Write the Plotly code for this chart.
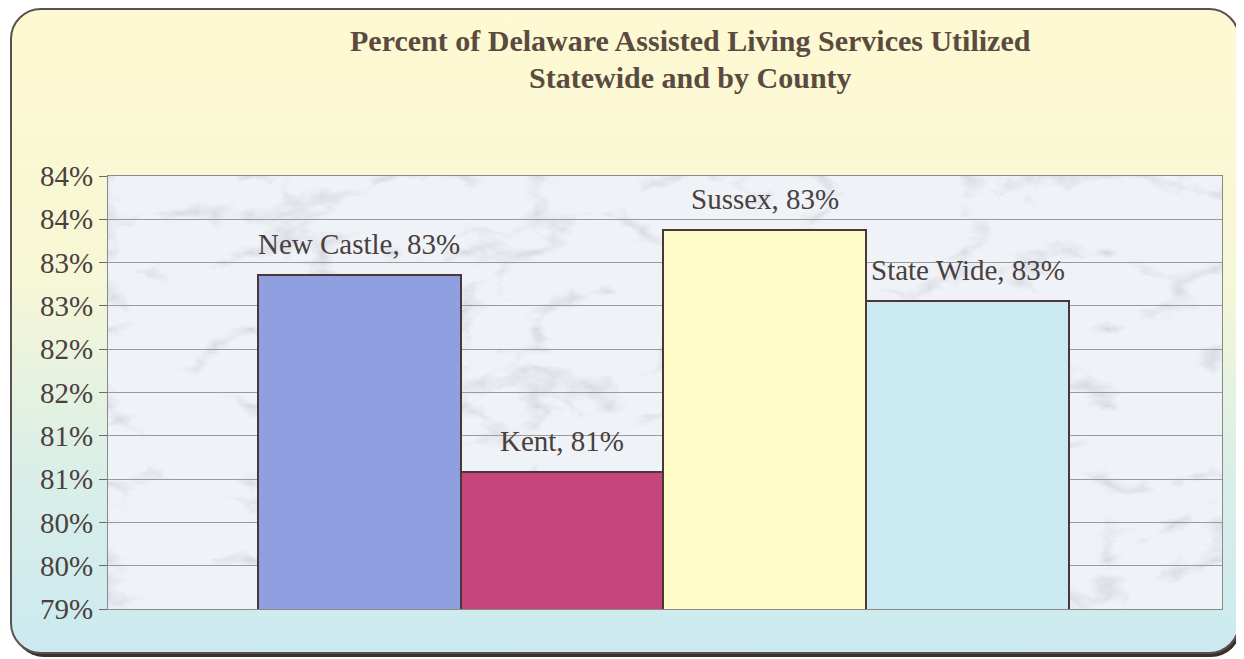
"""Percent of Delaware Assisted Living Services Utilized - bar chart."""
import base64
import plotly.graph_objs as go

# Data
counties = ['New Castle', 'Kent', 'Sussex', 'State Wide']
utilized = [82.86, 80.58, 83.38, 82.56]
bar_colors = ['#8f9fe0', '#c6457a', '#fffbc8', '#cbe9f1']
tick_vals = [79.0, 79.5, 80.0, 80.5, 81.0, 81.5, 82.0, 82.5, 83.0, 83.5, 84.0]
tick_text = ['79%', '80%', '80%', '81%', '81%', '82%', '82%', '83%', '83%', '84%', '84%']

# page body adds an 8px margin, so the figure is drawn 8px smaller
OFF = 8
W, H = 1244 - OFF, 659 - OFF
L, R, T, B = 100, 22, 168, 50
PW, PH = W - L - R, H - T - B


def px(x):
    # x in window pixels -> paper fraction
    return (x - OFF - L) / PW


def py(y):
    return (H - B - (y - OFF)) / PH


def svg_uri(svg):
    return 'data:image/svg+xml;base64,' + base64.b64encode(svg.encode()).decode()


# Background: rounded frame with yellow -> cyan gradient and dark shadow
bg_svg = f"""<svg xmlns="http://www.w3.org/2000/svg" width="{W}" height="{H}" viewBox="0 0 {W} {H}">
<defs><linearGradient id="g" x1="0" y1="0" x2="0" y2="1">
<stop offset="0" stop-color="#fef9d2"/>
<stop offset="0.42" stop-color="#f6f7d6"/>
<stop offset="0.7" stop-color="#dbefe7"/>
<stop offset="1" stop-color="#cbeaf0"/>
</linearGradient></defs>
<rect x="0" y="0" width="{W}" height="{H}" fill="#ffffff"/>
<rect x="6" y="4" width="1227" height="645" rx="30" fill="#3b302c"/>
<rect x="3" y="1" width="1228" height="644" rx="30" fill="url(#g)" stroke="#5a5050" stroke-width="2"/>
</svg>"""

# Plot area: pale marble texture
marble_svg = f"""<svg xmlns="http://www.w3.org/2000/svg" width="{PW}" height="{PH}" viewBox="0 0 {PW} {PH}">
<defs><filter id="f" x="0" y="0" width="100%" height="100%">
<feTurbulence type="turbulence" baseFrequency="0.007 0.013" numOctaves="5" seed="7"/>
<feColorMatrix type="matrix" values="0 0 0 0 0.58  0 0 0 0 0.60  0 0 0 0 0.67  -3.0 0 0 0 0.65"/>
</filter></defs>
<rect width="{PW}" height="{PH}" fill="#eff2f6"/>
<rect width="{PW}" height="{PH}" filter="url(#f)"/>
</svg>"""

fig = go.Figure()

fig.add_trace(go.Bar(
    x=counties,
    y=utilized,
    marker=dict(color=bar_colors, line=dict(color='#4a3838', width=2)),
    width=1.0,
    hoverinfo='x+y',
))

# Data labels above bars
for name, val in zip(counties, utilized):
    fig.add_annotation(
        x=name, y=val, xref='x', yref='y',
        text=f'{name}, {val:.0f}%',
        showarrow=False, yshift=31, yanchor='middle',
        font=dict(family='Liberation Serif', size=29, color='#4a4040'),
    )

# Title
fig.add_annotation(x=px(690), y=py(40), xref='paper', yref='paper',
                   text='<b>Percent of Delaware Assisted Living Services Utilized</b>',
                   showarrow=False, yanchor='middle',
                   font=dict(family='Liberation Serif', size=30, color='#5b4a3f'))
fig.add_annotation(x=px(690), y=py(77), xref='paper', yref='paper',
                   text='<b>Statewide and by County</b>',
                   showarrow=False, yanchor='middle',
                   font=dict(family='Liberation Serif', size=30, color='#5b4a3f'))

fig.update_layout(
    width=W, height=H,
    margin=dict(l=L, r=R, t=T, b=B, pad=0),
    paper_bgcolor='rgba(0,0,0,0)',
    plot_bgcolor='rgba(0,0,0,0)',
    showlegend=False,
    bargap=0,
    images=[
        dict(source=svg_uri(bg_svg), xref='paper', yref='paper',
             x=-L / PW, y=1 + T / PH, sizex=W / PW, sizey=H / PH,
             xanchor='left', yanchor='top', sizing='stretch', layer='below'),
        dict(source=svg_uri(marble_svg), xref='paper', yref='paper',
             x=0, y=1, sizex=1, sizey=1,
             xanchor='left', yanchor='top', sizing='stretch', layer='below'),
    ],
)

fig.update_xaxes(
    type='category',
    range=[-1.24, 4.255],
    showticklabels=False,
    ticks='',
    showgrid=False,
    showline=True, linecolor='#8a8a8a', linewidth=1, mirror=True,
    zeroline=False,
)

fig.update_yaxes(
    range=[79, 84],
    tickvals=tick_vals,
    ticktext=tick_text,
    ticks='outside', ticklen=8, tickcolor='#6a6a6a',
    tickfont=dict(family='Liberation Serif', size=29, color='#4a4040'),
    showgrid=True, gridcolor='#9a9a9a', gridwidth=1,
    showline=True, linecolor='#8a8a8a', linewidth=1, mirror=True,
    zeroline=False,
)

fig.write_html("out.html")
